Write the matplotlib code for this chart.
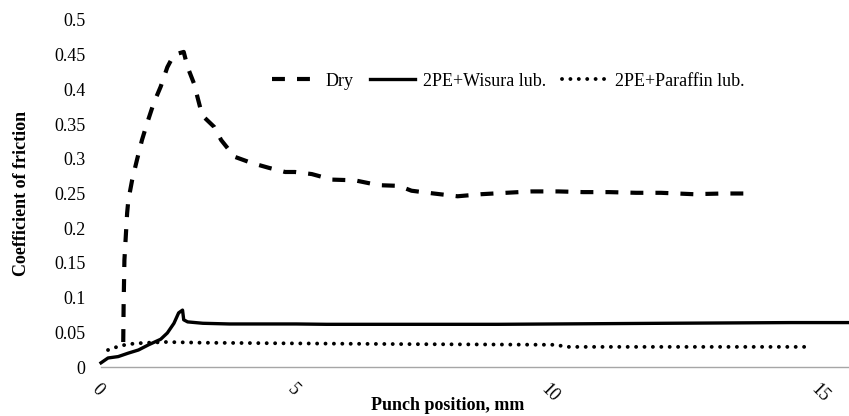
import numpy as np
import matplotlib
matplotlib.use("Agg")
import matplotlib.pyplot as plt
from matplotlib.ticker import FuncFormatter

plt.rcParams['font.family'] = ['Liberation Serif', 'DejaVu Serif']

# ---------------- data ----------------
dry_x = [0.57, 0.58, 0.60, 0.67, 0.70, 0.80, 0.92, 1.05, 1.18, 1.35, 1.53, 1.70,
         1.87, 2.12, 2.22, 2.38, 2.56, 2.64, 2.90, 3.08, 3.42, 3.86, 4.30, 4.72,
         4.97, 5.31, 5.71, 6.16, 6.63, 7.03, 7.28, 7.72, 8.19, 8.66, 9.15, 9.65,
         10.17, 10.63, 11.11, 11.61, 12.07, 12.67, 13.22, 13.78]
dry_y = [0.036, 0.090, 0.154, 0.222, 0.240, 0.270, 0.298, 0.327, 0.351, 0.380, 0.404, 0.432,
         0.450, 0.454, 0.432, 0.409, 0.370, 0.360, 0.346, 0.327, 0.303, 0.294, 0.287, 0.281,
         0.281, 0.278, 0.270, 0.269, 0.262, 0.261, 0.254, 0.250, 0.246, 0.249, 0.251, 0.253,
         0.253, 0.252, 0.252, 0.251, 0.251, 0.249, 0.250, 0.250]

wisura_x = [0.00, 0.18, 0.44, 0.70, 0.96, 1.22, 1.53, 1.70, 1.87, 1.99, 2.09, 2.12,
            2.22, 2.61, 3.29, 5.00, 5.60, 9.00, 12.13, 14.48, 15.57]
wisura_y = [0.006, 0.013, 0.015, 0.020, 0.0245, 0.032, 0.040, 0.049, 0.063, 0.078, 0.082, 0.068,
            0.065, 0.063, 0.062, 0.062, 0.0615, 0.0615, 0.063, 0.064, 0.064]

paraffin_x = [0.18, 0.41, 0.62, 0.88, 1.22, 1.66, 2.56, 5.00, 7.09, 10.13, 10.31, 14.80]
paraffin_y = [0.0245, 0.029, 0.032, 0.034, 0.035, 0.036, 0.035, 0.034, 0.033, 0.032, 0.029, 0.029]

series_labels = ['Dry', '2PE+Wisura lub.', '2PE+Paraffin lub.']
x_ticks = [0, 5, 10, 15]
y_ticks = [0, 0.05, 0.1, 0.15, 0.2, 0.25, 0.3, 0.35, 0.4, 0.45, 0.5]

# ---------------- category-like (non-uniform) axis spacing ----------------
AX_MM = [0, 5, 10, 15]
AX_POS = [0, 195, 448, 718]
SL_L, SL_R = 39.0, 54.0


def fwd(x):
    x = np.asarray(x, float)
    return np.where(x < 0, x * SL_L,
                    np.where(x > 15, AX_POS[-1] + (x - 15) * SL_R, np.interp(x, AX_MM, AX_POS)))


def inv(u):
    u = np.asarray(u, float)
    return np.where(u < 0, u / SL_L,
                    np.where(u > AX_POS[-1], 15 + (u - AX_POS[-1]) / SL_R,
                             np.interp(u, AX_POS, AX_MM)))


W, H = 849, 416
FS = 13
fig = plt.figure(figsize=(W / 100, H / 100), dpi=100)
ax = fig.add_axes([101 / W, 49 / H, 748 / W, 347 / H])
ax.set_xscale('function', functions=(fwd, inv))

ax.plot(dry_x, dry_y, color='black', lw=3, ls=(0, (3.1, 2.9)), label=series_labels[0])
ax.plot(wisura_x, wisura_y, color='black', lw=2.4, label=series_labels[1], clip_on=False)
ax.plot(paraffin_x, paraffin_y, color='black', lw=2.8, ls=(0, (0.01, 2.15)),
        dash_capstyle='round', label=series_labels[2])

ax.set_xlim(0, 15.55)
ax.set_ylim(0, 0.5)
ax.set_yticks(y_ticks)
ax.yaxis.set_major_formatter(FuncFormatter(lambda v, p: f"{v:g}"))
ax.tick_params(axis='y', length=0, pad=11, labelsize=FS)
ax.set_xticks(x_ticks)
ax.set_xticklabels([str(t) for t in x_ticks], rotation=-45, ha='left', va='top',
                   rotation_mode='anchor')
ax.tick_params(axis='x', length=0, pad=10, labelsize=FS)
for s in ['top', 'right', 'left']:
    ax.spines[s].set_visible(False)
ax.spines['bottom'].set_color('#a6a6a6')
ax.spines['bottom'].set_linewidth(1.0)

leg = ax.legend(loc='center left', bbox_to_anchor=(272 / W, 1 - 81 / H),
                bbox_transform=fig.transFigure, ncol=3, frameon=False, fontsize=FS,
                handlelength=2.5, handletextpad=0.45, columnspacing=0.9,
                borderpad=0, borderaxespad=0)

fig.text(22 / W, 1 - 193 / H, 'Coefficient of friction', rotation=90, ha='center',
         va='center', fontsize=FS, fontweight='bold')
fig.text(448 / W, 1 - 406 / H, 'Punch position, mm', ha='center', va='center',
         fontsize=FS, fontweight='bold')

fig.savefig('out.png', dpi=100)
